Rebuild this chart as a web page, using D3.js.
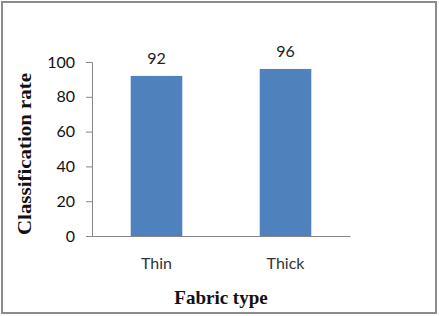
<!DOCTYPE html>
<html>
<head>
<meta charset="utf-8">
<script src="https://cdn.jsdelivr.net/npm/d3@7"></script>
<style>
  body { margin: 0; background: #fff; }
  text { font-family: Lato, "Open Sans", sans-serif; }
</style>
</head>
<body>
<div id="chart"></div>
<script>
var categories = ["Thin", "Thick"]
var values = [92, 96]
var yTicks = [0, 20, 40, 60, 80, 100]

var W = 439, H = 316
var margin = { top: 62, right: 89, bottom: 80, left: 92 }
var width = W - margin.left - margin.right
var height = H - margin.top - margin.bottom

var svg = d3.select("#chart").append("svg")
            .attr("width", W)
            .attr("height", H)

// outer frame
svg.append("rect")
   .attr("x", 2).attr("y", 2)
   .attr("width", 434).attr("height", 311)
   .attr("fill", "#fff")
   .attr("stroke", "#8c8c8c")
   .attr("stroke-width", 2)

var g = svg.append("g")
           .attr("transform", "translate(" + margin.left + "," + margin.top + ")")

var x = d3.scaleBand()
          .domain(categories)
          .range([0, width])
          .paddingInner(0.6)
          .paddingOuter(0.3)

var y = d3.scaleLinear()
          .domain([0, 100])
          .range([height, 0])

// y axis
var yAxis = g.append("g")
             .call(d3.axisLeft(y).tickValues(yTicks).tickSize(6).tickPadding(11))
yAxis.select(".domain").attr("stroke", "#868686")
yAxis.selectAll(".tick line").attr("stroke", "#868686")
yAxis.selectAll(".tick text")
     .attr("font-size", 16)
     .attr("fill", "#111")
     .style("font-family", "Lato, sans-serif")

// x axis
var xAxis = g.append("g")
             .attr("transform", "translate(0," + height + ")")
             .call(d3.axisBottom(x).tickSize(0).tickPadding(22))
xAxis.select(".domain").attr("stroke", "#868686")
xAxis.selectAll(".tick text")
     .attr("font-size", 16)
     .attr("fill", "#333")
     .style("font-family", "Lato, sans-serif")

g.selectAll(".bar")
 .data(values)
 .join("rect")
 .attr("class", "bar")
 .attr("x", function(d, i) { return x(categories[i]) })
 .attr("y", function(d) { return y(d) })
 .attr("width", x.bandwidth())
 .attr("height", function(d) { return height - y(d) })
 .attr("fill", "#4f81bd")

g.selectAll(".val")
 .data(values)
 .join("text")
 .attr("class", "val")
 .attr("x", function(d, i) { return x(categories[i]) + x.bandwidth() / 2 })
 .attr("y", function(d) { return y(d) - 12 })
 .attr("text-anchor", "middle")
 .attr("font-size", 16)
 .attr("fill", "#222")
 .text(function(d) { return d })

// axis titles
svg.append("text")
   .attr("x", 221)
   .attr("y", 304)
   .attr("text-anchor", "middle")
   .style("font-family", "'Liberation Serif', serif")
   .attr("font-weight", "bold")
   .attr("font-size", 19)
   .attr("fill", "#111")
   .text("Fabric type")

svg.append("text")
   .attr("transform", "translate(31,154) rotate(-90)")
   .attr("text-anchor", "middle")
   .style("font-family", "'Liberation Serif', serif")
   .attr("font-weight", "bold")
   .attr("font-size", 19)
   .attr("textLength", 162)
   .attr("lengthAdjust", "spacingAndGlyphs")
   .attr("fill", "#111")
   .text("Classification rate")
</script>
</body>
</html>
